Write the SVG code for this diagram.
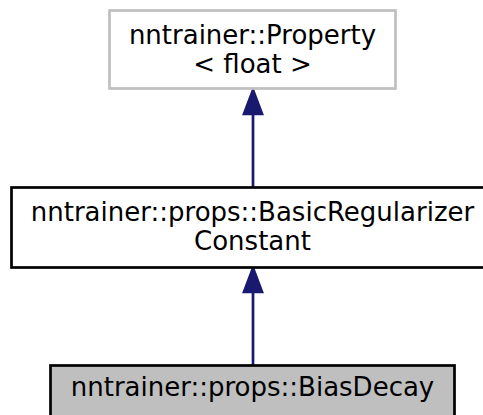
<svg xmlns="http://www.w3.org/2000/svg" width="483" height="415" viewBox="0 0 483 415">
  <defs>
    <style>
      .label { font-family: "DejaVu Sans", sans-serif; font-size: 26px; fill: #000; text-anchor: middle; }
      .edge { stroke: #191970; stroke-width: 2.7; fill: none; }
      .head { fill: #191970; stroke: #191970; stroke-width: 2.7; }
    </style>
  </defs>
  <rect width="483" height="415" fill="#fff"/>

  <!-- inheritance edges -->
  <g id="edges">
    <path class="edge" d="M253,366 V290"/>
    <polygon class="head" points="253,268 262,292 244,292"/>
    <path class="edge" d="M253,187 V114"/>
    <polygon class="head" points="253,90 262,114 244,114"/>
  </g>

  <g id="node-property">
    <rect x="109.5" y="10.5" width="286" height="78" fill="#fff" stroke="#bfbfbf" stroke-width="2.7"/>
    <text class="label" x="252.5" y="44">nntrainer::Property</text>
    <text class="label" x="252.5" y="73">&lt; float &gt;</text>
  </g>

  <g id="node-basicregularizerconstant">
    <rect x="11.5" y="187.5" width="482" height="80" fill="#fff" stroke="#000" stroke-width="2.7"/>
    <text class="label" x="252.5" y="221">nntrainer::props::BasicRegularizer</text>
    <text class="label" x="252.5" y="250">Constant</text>
  </g>

  <g id="node-biasdecay">
    <rect x="50.5" y="365.5" width="404" height="60" fill="#bfbfbf" stroke="#000" stroke-width="2.7"/>
    <text class="label" x="252.5" y="396">nntrainer::props::BiasDecay</text>
  </g>
</svg>
